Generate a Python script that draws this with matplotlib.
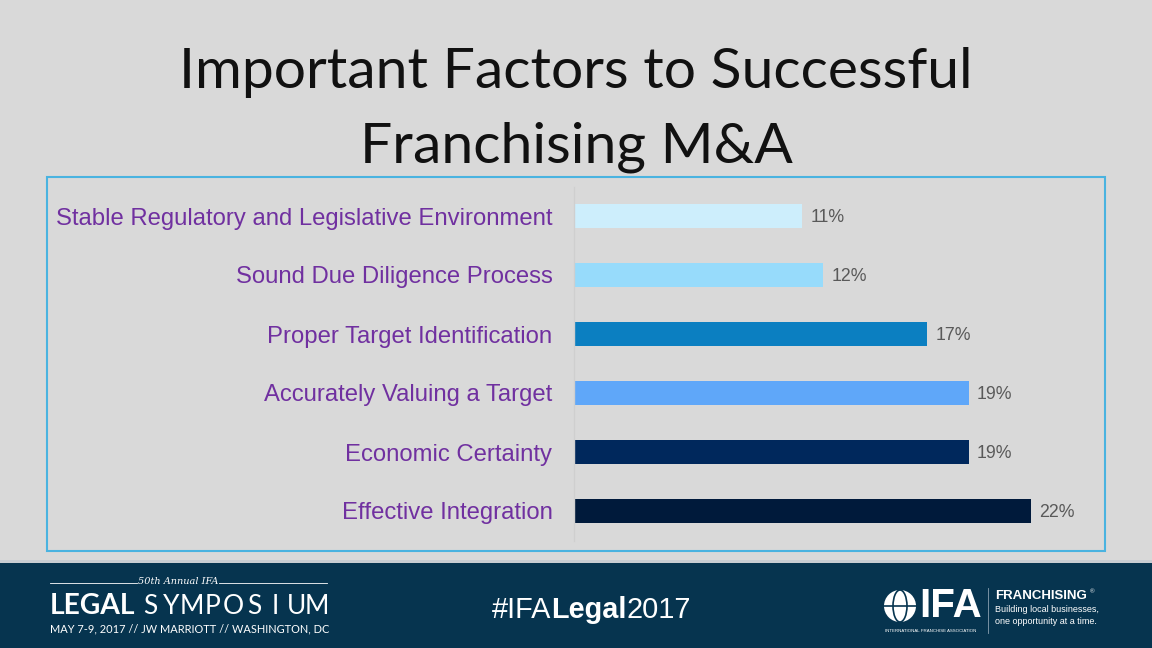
import matplotlib
matplotlib.use("Agg")
import matplotlib.pyplot as plt
from matplotlib.patches import Rectangle, Ellipse
from matplotlib.lines import Line2D

categories = ["Stable Regulatory and Legislative Environment",
              "Sound Due Diligence Process",
              "Proper Target Identification",
              "Accurately Valuing a Target",
              "Economic Certainty",
              "Effective Integration"]
values = [11, 12, 17, 19, 19, 22]
bar_colors = ["#cdeefc", "#97dbfb", "#0b7fc1", "#5fa7f9", "#00285c", "#001a3b"]
title_lines = ["Important Factors to Successful", "Franchising M&A"]

W, H = 1152, 648
BG = "#d9d9d9"
FOOT = "#06344f"

fig = plt.figure(figsize=(W / 100, H / 100), dpi=100, facecolor=BG)
renderer = fig.canvas.get_renderer()

def fx(px):
    return px / W

def fy(py):
    return 1 - py / H

def text_width_px(t):
    return t.get_window_extent(renderer=renderer).width

# Title
fig.text(fx(576), fy(72), title_lines[0], ha="center", va="center",
         fontsize=41, family="Lato", color="#111111")
fig.text(fx(576), fy(147), title_lines[1], ha="center", va="center",
         fontsize=41, family="Lato", color="#111111")

# Chart frame
fig.patches.append(Rectangle((fx(47), fy(551)), fx(1105 - 47), (551 - 177) / H,
                             transform=fig.transFigure, fill=False,
                             edgecolor="#4ab3e0", linewidth=1.5))

# Axes
ax = fig.add_axes([fx(574), fy(540.5), fx(25 * 20.77), (540.5 - 186.5) / H])
ax.set_facecolor("none")
ypos = list(range(len(categories)))
ax.barh(ypos, values, height=0.39, color=bar_colors)
ax.set_xlim(0, 25)
ax.set_ylim(len(categories) - 0.5, -0.5)
ax.set_yticks(ypos)
ax.set_yticklabels(categories, fontsize=17.2, family="Liberation Sans", color="#7030a0")
ax.tick_params(axis="y", length=0, pad=15.5)
ax.set_xticks([])
for s in ["top", "right", "bottom"]:
    ax.spines[s].set_visible(False)
ax.spines["left"].set_color("#cfcfcf")
ax.spines["left"].set_linewidth(1)
for y, v in zip(ypos, values):
    ax.text(v + 0.4, y + 0.03, f"{v}%", va="center", ha="left", fontsize=12.8,
            family="Liberation Sans", color="#595959")

# Footer
fig.patches.append(Rectangle((0, 0), 1, (648 - 563) / H, transform=fig.transFigure,
                             facecolor=FOOT, edgecolor="none"))
fig.patches.append(Rectangle((0, fy(563)), 1, 3 / H, transform=fig.transFigure,
                             facecolor="#c8cdd2", edgecolor="none"))

# Left footer block
fig.lines.append(Line2D([fx(50), fx(137)], [fy(583), fy(583)], transform=fig.transFigure,
                        color="white", linewidth=0.6))
fig.lines.append(Line2D([fx(219), fx(327)], [fy(583), fy(583)], transform=fig.transFigure,
                        color="white", linewidth=0.6))
fig.text(fx(178), fy(581), "50th Annual IFA", ha="center", va="center", fontsize=7,
         style="italic", family="DejaVu Serif", color="white")
fig.text(fx(50), fy(606), "LEGAL", ha="left", va="center", fontsize=20.3,
         weight="bold", family="Lato", color="white")
sym = "SYMPOSIUM"
x0, x1 = 150, 317
for i, ch in enumerate(sym):
    xc = x0 + (x1 - x0) * i / (len(sym) - 1)
    fig.text(fx(xc), fy(606), ch, ha="center", va="center", fontsize=19,
             family="Lato", color="white")
fig.text(fx(50), fy(629), "MAY 7-9, 2017 // JW MARRIOTT // WASHINGTON, DC", ha="left",
         va="center", fontsize=7.9, family="Lato", color="white")

# Hashtag, laid out contiguously
x = 492
for part, wt in [("#IFA", "normal"), ("Legal", "bold"), ("2017", "normal")]:
    t = fig.text(fx(x), fy(610), part, ha="left", va="center", fontsize=20.8,
                 family="Liberation Sans", weight=wt, color="white")
    x += text_width_px(t)

# IFA logo
fig.patches.append(Ellipse((fx(900), fy(606)), 32 / W, 32 / H, transform=fig.transFigure,
                           facecolor="white", edgecolor="none"))
fig.patches.append(Ellipse((fx(900), fy(606)), 14 / W, 32 / H, transform=fig.transFigure,
                           facecolor="none", edgecolor=FOOT, linewidth=1.2))
fig.lines.append(Line2D([fx(884), fx(916)], [fy(606), fy(606)], transform=fig.transFigure,
                        color=FOOT, linewidth=1.2))
fig.text(fx(919), fy(606), "IFA", ha="left", va="center", fontsize=29,
         weight="bold", family="Liberation Sans", color="white")
fig.text(fx(885), fy(631), "INTERNATIONAL FRANCHISE ASSOCIATION", ha="left", va="center",
         fontsize=3.2, family="Liberation Sans", color="white")
fig.lines.append(Line2D([fx(988), fx(988)], [fy(588), fy(633)], transform=fig.transFigure,
                        color="#8aa0b0", linewidth=0.6))
fig.text(fx(995), fy(596), "FRANCHISING", ha="left", va="center", fontsize=9.5,
         weight="bold", family="Liberation Sans", color="white")
fig.text(fx(1090), fy(592), "\u00ae", ha="left", va="center", fontsize=4.5,
         family="Liberation Sans", color="white")
fig.text(fx(995), fy(610), "Building local businesses,", ha="left", va="center",
         fontsize=6.5, family="Liberation Sans", color="white")
fig.text(fx(995), fy(621), "one opportunity at a time.", ha="left", va="center",
         fontsize=6.5, family="Liberation Sans", color="white")

fig.savefig("out.png", dpi=100, facecolor=BG)
